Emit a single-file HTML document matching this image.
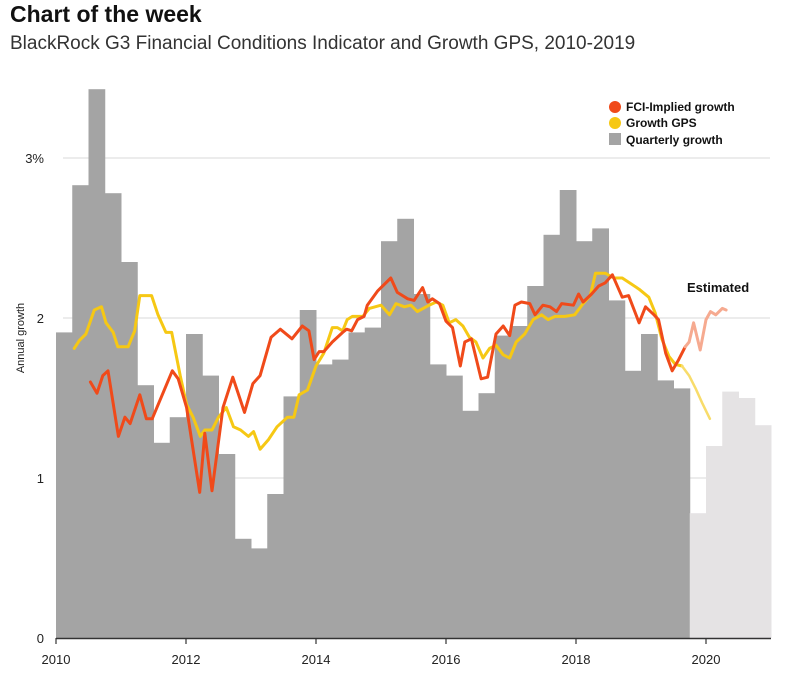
<!DOCTYPE html>
<html><head><meta charset="utf-8"><style>
body{margin:0;background:#fff;width:796px;height:672px;overflow:hidden;font-family:"Liberation Sans",sans-serif;}
</style></head><body>
<svg width="796" height="672" xmlns="http://www.w3.org/2000/svg">
<text x="10" y="22" font-size="23" font-weight="bold" fill="#111">Chart of the week</text>
<text x="10" y="49" font-size="19" fill="#333">BlackRock G3 Financial Conditions Indicator and Growth GPS, 2010-2019</text>
<g id="grid"></g><g id="bars"></g><g id="lines"></g><g id="axes"></g>
<g font-size="12" font-weight="bold" fill="#111">
<circle cx="615" cy="107" r="6" fill="#f04a1a"/>
<text x="626" y="111">FCI-Implied growth</text>
<circle cx="615" cy="123" r="6" fill="#f6c814"/>
<text x="626" y="127">Growth GPS</text>
<rect x="609" y="133" width="12" height="12" fill="#a4a4a4"/>
<text x="626" y="144">Quarterly growth</text>
</g>
<text x="687" y="292" font-size="13" font-weight="bold" fill="#111">Estimated</text>
<text transform="translate(24,338) rotate(-90)" text-anchor="middle" font-size="11" fill="#222">Annual growth</text>
</svg>
<script>
const barValues=[1.91,2.83,3.43,2.78,2.35,1.58,1.22,1.38,1.90,1.64,1.15,0.62,0.56,0.90,1.51,2.05,1.71,1.74,1.91,1.94,2.48,2.62,2.15,1.71,1.64,1.42,1.53,1.89,1.95,2.20,2.52,2.80,2.48,2.56,2.11,1.67,1.90,1.61,1.56];
const estBarValues=[0.78,1.20,1.54,1.50,1.33];
const fciYears=[2010.53,2010.63,2010.72,2010.80,2010.96,2011.06,2011.14,2011.29,2011.39,2011.48,2011.79,2011.88,2012.01,2012.21,2012.29,2012.40,2012.57,2012.72,2012.90,2013.03,2013.14,2013.31,2013.45,2013.63,2013.79,2013.89,2013.97,2014.05,2014.12,2014.25,2014.41,2014.47,2014.55,2014.64,2014.74,2014.79,2014.95,2015.15,2015.25,2015.41,2015.51,2015.64,2015.72,2015.79,2015.90,2016.00,2016.10,2016.22,2016.29,2016.39,2016.54,2016.64,2016.77,2016.88,2016.98,2017.06,2017.16,2017.29,2017.37,2017.49,2017.60,2017.70,2017.78,2017.96,2018.04,2018.11,2018.24,2018.35,2018.45,2018.56,2018.71,2018.81,2018.97,2019.07,2019.20,2019.27,2019.38,2019.48,2019.58,2019.68];
const fciValues=[1.60,1.53,1.64,1.67,1.26,1.38,1.34,1.52,1.37,1.37,1.67,1.62,1.44,0.91,1.28,0.92,1.44,1.63,1.41,1.59,1.64,1.88,1.93,1.87,1.95,1.92,1.74,1.79,1.79,1.85,1.91,1.93,1.92,1.99,2.01,2.08,2.17,2.25,2.16,2.12,2.11,2.19,2.10,2.12,2.09,1.98,1.94,1.70,1.85,1.87,1.62,1.63,1.90,1.95,1.89,2.08,2.10,2.09,2.02,2.08,2.07,2.04,2.09,2.08,2.15,2.10,2.15,2.20,2.22,2.27,2.13,2.14,1.97,2.07,2.02,1.99,1.78,1.67,1.74,1.82];
const fciEstYears=[2019.68,2019.74,2019.81,2019.91,2020.00,2020.07,2020.15,2020.25,2020.31];
const fciEstValues=[1.82,1.85,1.97,1.80,1.99,2.04,2.02,2.06,2.05];
const gpsYears=[2010.28,2010.36,2010.46,2010.59,2010.70,2010.77,2010.88,2010.95,2011.11,2011.21,2011.29,2011.47,2011.57,2011.69,2011.78,2011.91,2012.01,2012.11,2012.22,2012.29,2012.40,2012.50,2012.62,2012.73,2012.84,2012.96,2013.04,2013.14,2013.27,2013.40,2013.56,2013.66,2013.74,2013.87,2014.00,2014.12,2014.25,2014.33,2014.41,2014.48,2014.56,2014.72,2014.82,2015.00,2015.13,2015.23,2015.36,2015.46,2015.56,2015.74,2015.85,2015.95,2016.05,2016.15,2016.26,2016.36,2016.46,2016.57,2016.67,2016.77,2016.88,2016.98,2017.08,2017.21,2017.34,2017.47,2017.57,2017.68,2017.83,2017.98,2018.11,2018.22,2018.30,2018.45,2018.58,2018.71,2018.86,2018.97,2019.12,2019.22,2019.32,2019.43,2019.53,2019.63];
const gpsValues=[1.81,1.86,1.90,2.05,2.07,1.97,1.91,1.82,1.82,1.92,2.14,2.14,2.02,1.91,1.91,1.64,1.46,1.38,1.26,1.30,1.30,1.38,1.44,1.32,1.30,1.26,1.29,1.18,1.24,1.32,1.38,1.38,1.52,1.55,1.70,1.78,1.94,1.94,1.92,1.99,2.01,2.01,2.06,2.08,2.02,2.09,2.07,2.08,2.04,2.08,2.10,2.08,1.97,1.99,1.95,1.88,1.85,1.75,1.81,1.83,1.77,1.75,1.85,1.90,1.99,2.02,1.99,2.01,2.01,2.02,2.09,2.14,2.28,2.28,2.25,2.25,2.21,2.18,2.13,2.03,1.87,1.76,1.71,1.70];
const gpsEstYears=[2019.63,2019.74,2019.84,2019.94,2020.06];
const gpsEstValues=[1.70,1.64,1.56,1.47,1.37];
const yTicks=[0,1,2,3];
const yTickLabels=["0","1","2","3%"];
const xTicks=[2010,2012,2014,2016,2018,2020];

const NS="http://www.w3.org/2000/svg";
const X=y=>56+(y-2010)*65;
const Y=v=>638-v*160;
function mk(tag,attrs,parent){const e=document.createElementNS(NS,tag);for(const k in attrs)e.setAttribute(k,attrs[k]);document.getElementById(parent).appendChild(e);return e;}
yTicks.forEach((t,i)=>{
  if(t>0){const g=mk('line',{x1:63,x2:770,y1:Y(t),y2:Y(t),stroke:'#d9d9d9','stroke-width':1},'grid');
  
  }
  const tx=mk('text',{x:44,y:Y(t)+5,'text-anchor':'end','font-size':13,fill:'#222'},'axes');
  tx.textContent=yTickLabels[i];
  
  
});
barValues.forEach((v,i)=>{
  const x0=X(2010+i*0.25),x1=X(2010+(i+1)*0.25);
  const r=mk('rect',{x:x0,y:Y(v),width:x1-x0+0.5,height:Y(0)-Y(v),fill:'#a4a4a4'},'bars');
  
  
});
estBarValues.forEach((v,i)=>{
  const s=2019.75+i*0.25;const x0=X(s),x1=X(s+0.25);
  const r=mk('rect',{x:x0,y:Y(v),width:x1-x0+0.5,height:Y(0)-Y(v),fill:'#e5e3e4'},'bars');
  
  
});
function line(xs,vs,color,name,w){
  const d=xs.map((x,i)=>(i?'L':'M')+X(x).toFixed(1)+','+Y(vs[i]).toFixed(1)).join(' ');
  const p=mk('path',{d:d,fill:'none',stroke:color,'stroke-width':w,'stroke-linejoin':'round','stroke-linecap':'round'},'lines');
  
  
}
line(gpsYears,gpsValues,'#f6c814','line-growth-gps',3);
line(gpsEstYears,gpsEstValues,'#f8dc6a','line-growth-gps-estimated',2.5);
line(fciYears,fciValues,'#f04a1a','line-fci-implied',3);
line(fciEstYears,fciEstValues,'#f6aa90','line-fci-estimated',3);
const ax=mk('line',{x1:56,x2:771,y1:638.5,y2:638.5,stroke:'#333','stroke-width':1.5},'axes');


xTicks.forEach(t=>{
  const tk=mk('line',{x1:X(t),x2:X(t),y1:638,y2:644,stroke:'#333','stroke-width':1.2},'axes');
  
  
  const tx=mk('text',{x:X(t),y:664,'text-anchor':'middle','font-size':13,fill:'#222'},'axes');
  tx.textContent=t;
  
  
});
</script>
</body></html>
